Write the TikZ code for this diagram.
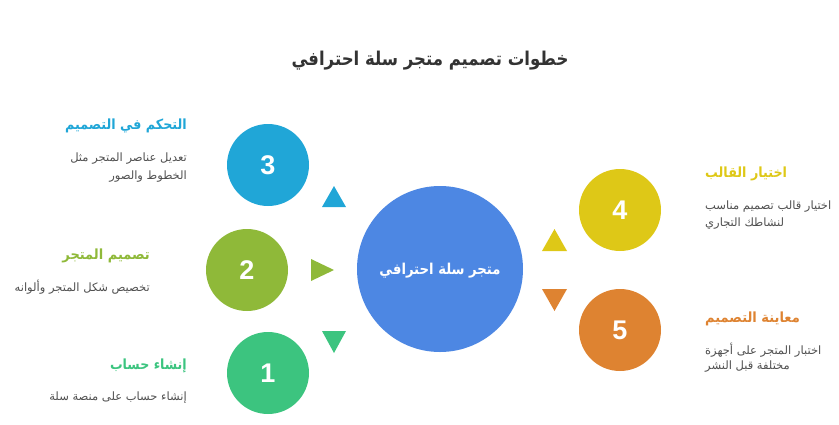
\documentclass[tikz,border=0pt]{standalone}
\usepackage{fontspec}
\setmainfont{Liberation Sans}
\newfontfamily\arabicfont[Script=Arabic]{DejaVu Sans}
\TeXXeTstate=1
\definecolor{cblue}{HTML}{20A6D7}
\definecolor{colive}{HTML}{8FB939}
\definecolor{cgreen}{HTML}{3CC47F}
\definecolor{cyellow}{HTML}{DEC817}
\definecolor{corange}{HTML}{DE8331}
\definecolor{ccenter}{HTML}{4D87E3}
\definecolor{ctitle}{HTML}{333333}
\definecolor{cdesc}{HTML}{505050}
\tikzset{
  stepcircle/.style={circle, minimum size=82pt, inner sep=0pt, text=white, font=\fontsize{27}{27}\selectfont\bfseries},
  steptitle/.style={inner sep=0pt, font=\fontsize{14}{14}\selectfont\bfseries\arabicfont},
  stepdesc/.style={inner sep=0pt, text=cdesc, font=\fontsize{11.5}{11.5}\selectfont\arabicfont},
}
\begin{document}
\begin{tikzpicture}[x=1pt,y=-1pt]
\useasboundingbox (0,0) rectangle (839,424);
% title
\node[inner sep=0pt, text=ctitle, font=\fontsize{19}{19}\selectfont\bfseries\arabicfont] (title) at (430,61) {\scalebox{0.87}[1]{\beginR خطوات تصميم متجر سلة احترافي\endR}};
% center
\node[circle, fill=ccenter, minimum size=166pt, inner sep=0pt] (center) at (440,269) {};
\node[inner sep=0pt, text=white, font=\fontsize{15}{15}\selectfont\bfseries\arabicfont] (centertext) at (440,271) {\scalebox{0.88}[1]{\beginR متجر سلة احترافي\endR}};
% circles
\node[stepcircle, fill=cgreen] (c1) at (268,373) {1};
\node[stepcircle, fill=colive] (c2) at (247,270) {2};
\node[stepcircle, fill=cblue] (c3) at (268,165) {3};
\node[stepcircle, fill=cyellow] (c4) at (620,210) {4};
\node[stepcircle, fill=corange] (c5) at (620,330) {5};
% triangles
\fill[cblue] (322,207) -- (346,207) -- (334,186) -- cycle;
\fill[colive] (311,259) -- (311,281) -- (334,270) -- cycle;
\fill[cgreen] (322,331) -- (346,331) -- (334,353) -- cycle;
\fill[cyellow] (542,251) -- (567,251) -- (554.5,229) -- cycle;
\fill[corange] (542,289) -- (567,289) -- (554.5,311) -- cycle;
% step 3
\node[steptitle, text=cblue, anchor=east] (t3) at (187,126) {\scalebox{0.91}[1]{\beginR التحكم في التصميم\endR}};
\node[stepdesc, anchor=east] (d3a) at (187,159) {\beginR تعديل عناصر المتجر مثل\endR};
\node[stepdesc, anchor=east] (d3b) at (187,177) {\beginR الخطوط والصور\endR};
% step 2
\node[steptitle, text=colive, anchor=east] (t2) at (150,256) {\scalebox{0.93}[1]{\beginR تصميم المتجر\endR}};
\node[stepdesc, anchor=east] (d2a) at (150,287) {\beginR تخصيص شكل المتجر وألوانه\endR};
% step 1
\node[steptitle, text=cgreen, anchor=east] (t1) at (187,366) {\scalebox{0.9}[1]{\beginR إنشاء حساب\endR}};
\node[stepdesc, anchor=east] (d1a) at (187,398) {\beginR إنشاء حساب على منصة سلة\endR};
% step 4
\node[steptitle, text=cyellow, anchor=west] (t4) at (705,174) {\scalebox{0.91}[1]{\beginR اختيار القالب\endR}};
\node[stepdesc, anchor=west] (d4a) at (705,207) {\beginR اختيار قالب تصميم مناسب\endR};
\node[stepdesc, anchor=west] (d4b) at (705,224) {\beginR لنشاطك التجاري\endR};
% step 5
\node[steptitle, text=corange, anchor=west] (t5) at (705,319) {\scalebox{0.93}[1]{\beginR معاينة التصميم\endR}};
\node[stepdesc, anchor=west] (d5a) at (705,350) {\beginR اختبار المتجر على أجهزة\endR};
\node[stepdesc, anchor=west] (d5b) at (705,367) {\beginR مختلفة قبل النشر\endR};
\end{tikzpicture}
\end{document}
